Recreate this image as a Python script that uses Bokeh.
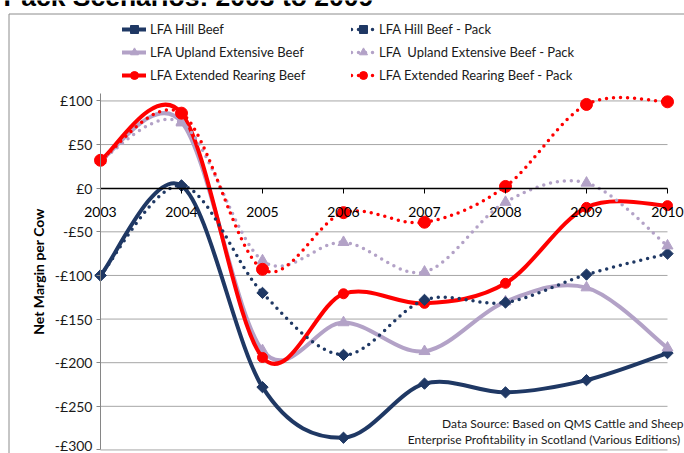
from bokeh.plotting import figure
from bokeh.models import (LinearAxis, FixedTicker, Legend, LegendItem, Label,
                          ColumnDataSource, BoxAnnotation)
from bokeh.embed import file_html
from bokeh.resources import INLINE
import math

# ---------------- data ----------------
years = [2003, 2004, 2005, 2006, 2007, 2008, 2009, 2010]
x_tick_labels = ["2003", "2004", "2005", "2006", "2007", "2008", "2009", "2010"]

hill_beef = [-100, 3, -228, -286, -224, -234, -220, -189]
hill_beef_pack = [-100, 3, -120, -191, -128, -131, -99, -75]
upland_beef = [32, 76, -186, -154, -187, -130, -114, -183]
upland_beef_pack = [32, 75, -83, -62, -96, -16, 6, -66]
rearing_beef = [32, 86, -194, -121, -132, -109, -22, -20]
rearing_beef_pack = [32, 86, -93, -28, -39, 2, 96, 99]

series_names = ["LFA Hill Beef", "LFA Upland Extensive Beef", "LFA Extended Rearing Beef",
                "LFA Hill Beef - Pack", "LFA  Upland Extensive Beef - Pack",
                "LFA Extended Rearing Beef - Pack"]

y_ticks = [-300, -250, -200, -150, -100, -50, 0, 50, 100]
y_tick_labels = ["-£300", "-£250", "-£200", "-£150", "-£100", "-£50", "£0", "£50", "£100"]
y_axis_top = 108.6

title_text = "Pack Scenarios: 2003 to 2009"
source_lines = ["Data Source: Based on QMS Cattle and Sheep",
                "Enterprise Profitability in Scotland  (Various Editions)"]

NAVY = "#1f3864"
LAV = "#b3a2c7"
RED = "#ff0000"
FONT = "Lato"

# ---------------- layout (pixels) ----------------
W, H = 684, 453
PX_PER_YEAR = 81.0
X_FIRST_PX = 100.0               # 2003 position from the left edge
PX_PER_UNIT = 0.8725
ZERO_PX = 187.7                  # £0 position from the top edge
BORDER_LEFT_PX = 8.5
BORDER_TOP_PX = 13.5

x_start = years[0] - X_FIRST_PX / PX_PER_YEAR
x_end = x_start + W / PX_PER_YEAR
y_end = ZERO_PX / PX_PER_UNIT
y_start = y_end - H / PX_PER_UNIT


def smooth_segments(xs, ys):
    """Excel-style smoothed line: cubic Bezier segments through the points."""
    n = len(xs)
    d = dict(x0=[], y0=[], x1=[], y1=[], cx0=[], cy0=[], cx1=[], cy1=[])
    for i in range(n - 1):
        a = max(i - 1, 0)
        b = min(i + 2, n - 1)
        d["x0"].append(xs[i]); d["y0"].append(ys[i])
        d["x1"].append(xs[i + 1]); d["y1"].append(ys[i + 1])
        d["cx0"].append(xs[i] + (xs[i + 1] - xs[a]) / 6.0)
        d["cy0"].append(ys[i] + (ys[i + 1] - ys[a]) / 6.0)
        d["cx1"].append(xs[i + 1] - (xs[b] - xs[i]) / 6.0)
        d["cy1"].append(ys[i + 1] - (ys[b] - ys[i]) / 6.0)
    return ColumnDataSource(d)


p = figure(width=W, height=H,
           x_range=(x_start, x_end), y_range=(y_start, y_end),
           x_axis_location=None, y_axis_location=None,
           min_border_left=0, min_border_right=0,
           min_border_top=0, min_border_bottom=0,
           output_backend="svg", toolbar_location=None)
p.outline_line_color = None
p.grid.visible = False
p.background_fill_color = "white"
p.border_fill_color = "white"

# chart-area border (only its left and top edges fall inside the picture)
p.add_layout(BoxAnnotation(left=x_start + BORDER_LEFT_PX / PX_PER_YEAR,
                           right=x_end + 1,
                           top=y_end - BORDER_TOP_PX / PX_PER_UNIT,
                           bottom=y_start - 50,
                           fill_alpha=0, line_color="#8c8c8c", line_width=1,
                           line_alpha=1))

# horizontal gridlines spanning the category extent
grid_vals = [v for v in y_ticks if v != 0]
p.segment(x0=[years[0]] * len(grid_vals), y0=grid_vals,
          x1=[years[-1]] * len(grid_vals), y1=grid_vals,
          line_color="#a6a6a6", line_width=1)

specs = [
    (hill_beef, NAVY, "solid", 4, "square", 8, math.pi / 4),
    (upland_beef, LAV, "solid", 4, "triangle", 11, 0),
    (rearing_beef, RED, "solid", 4, "circle", 10, 0),
    (hill_beef_pack, NAVY, "0 7", 3.5, "square", 8, math.pi / 4),
    (upland_beef_pack, LAV, "0 7", 3.5, "triangle", 11, 0),
    (rearing_beef_pack, RED, "0 7", 3.5, "circle", 12, 0),
]

items = []
for name, (vals, color, dash, lw, marker, size, ang) in zip(series_names, specs):
    src = smooth_segments(years, vals)
    r_line = p.bezier(x0="x0", y0="y0", x1="x1", y1="y1", cx0="cx0", cy0="cy0",
                      cx1="cx1", cy1="cy1", source=src, line_color=color,
                      line_width=lw, line_dash=dash, line_cap="round")
    r_mark = p.scatter(years, vals, marker=marker, size=size, angle=ang,
                       fill_color=color, line_color=color)
    items.append(LegendItem(label=name, renderers=[r_line, r_mark]))

# axes
xaxis = LinearAxis(fixed_location=0, ticker=FixedTicker(ticks=years),
                   bounds=(years[0], years[-1]),
                   major_label_overrides={y: l for y, l in zip(years, x_tick_labels)})
xaxis.axis_line_color = "black"
xaxis.axis_line_width = 1.3
xaxis.major_tick_line_color = "black"
xaxis.major_tick_out = 5
xaxis.major_tick_in = 0
xaxis.minor_tick_out = 0
xaxis.minor_tick_in = 0
xaxis.major_label_text_font = FONT
xaxis.major_label_text_font_size = "14px"
xaxis.major_label_text_color = "black"
xaxis.major_label_standoff = 14
p.add_layout(xaxis, "below")

yaxis = LinearAxis(fixed_location=years[0], ticker=FixedTicker(ticks=y_ticks),
                   bounds=(y_ticks[0], y_axis_top),
                   major_label_overrides={t: l for t, l in zip(y_ticks, y_tick_labels)},
                   axis_label="Net Margin per Cow")
yaxis.axis_line_color = "#868686"
yaxis.major_tick_line_color = "#868686"
yaxis.major_tick_out = 4
yaxis.major_tick_in = 0
yaxis.minor_tick_out = 0
yaxis.minor_tick_in = 0
yaxis.major_label_text_font = FONT
yaxis.major_label_text_font_size = "14px"
yaxis.major_label_text_color = "#1a1a1a"
yaxis.major_label_standoff = 4
yaxis.axis_label_text_font = FONT
yaxis.axis_label_text_font_size = "14px"
yaxis.axis_label_text_font_style = "bold"
yaxis.axis_label_text_color = "black"
yaxis.axis_label_standoff = 5
p.add_layout(yaxis, "left")

legend = Legend(items=items, location=(122, 368), ncols=2,
                padding=0, margin=0, spacing=3,
                glyph_width=24, glyph_height=20, label_height=20,
                label_standoff=4, label_width=198,
                label_text_font=FONT, label_text_font_size="13px",
                label_text_color="#1a1a1a",
                border_line_color=None, background_fill_alpha=0)
p.add_layout(legend, "center")

# title (only its lower part is inside the picture, as in the reference)
p.add_layout(Label(x=3, y=H + 3.5, x_units="screen", y_units="screen", text=title_text,
                   text_align="left", text_baseline="alphabetic",
                   text_font="Liberation Sans", text_font_style="bold",
                   text_font_size="26.5px", text_color="black"))

for txt, yy in zip(source_lines, [29.7, 14]):
    p.add_layout(Label(x=683, y=yy, x_units="screen", y_units="screen", text=txt,
                       text_align="right", text_baseline="middle",
                       text_font=FONT, text_font_size="12px", text_color="#1a1a1a"))

open("out.html", "w").write(file_html(p, INLINE))
